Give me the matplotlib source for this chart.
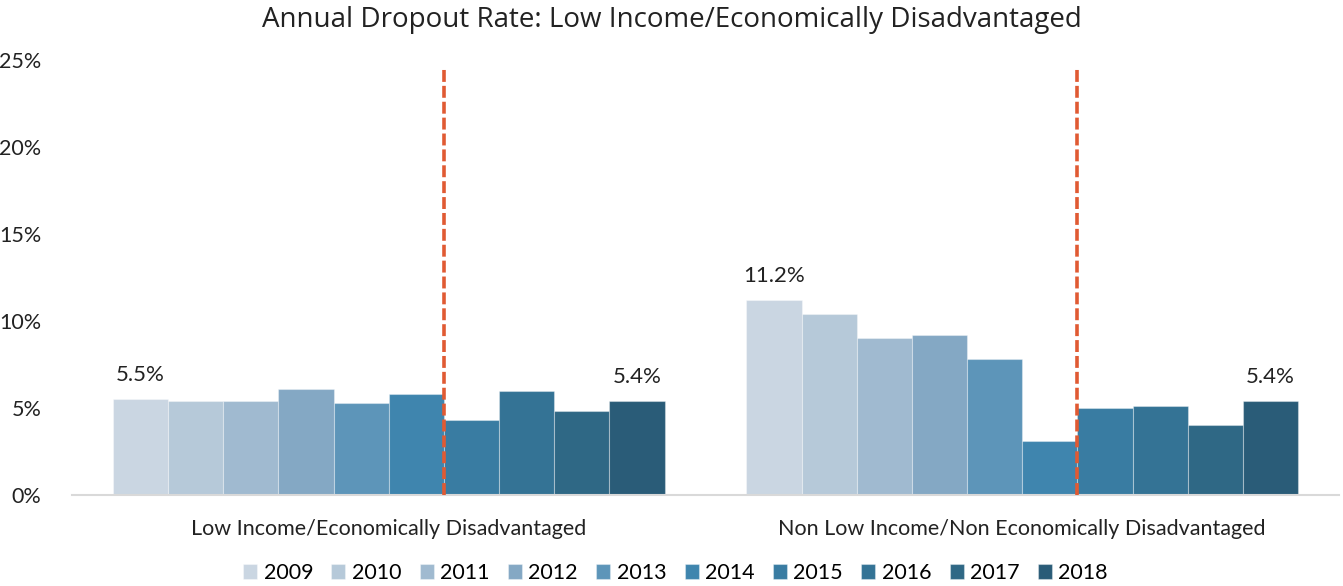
import numpy as np
import matplotlib.pyplot as plt
from matplotlib.ticker import PercentFormatter

# data
categories = ["Low Income/Economically Disadvantaged",
              "Non Low Income/Non Economically Disadvantaged"]
years = ["2009", "2010", "2011", "2012", "2013", "2014", "2015", "2016", "2017", "2018"]
low_income = [5.5, 5.4, 5.4, 6.1, 5.3, 5.8, 4.3, 6.0, 4.8, 5.4]
non_low_income = [11.2, 10.4, 9.0, 9.2, 7.8, 3.1, 5.0, 5.1, 4.0, 5.4]
colors = ["#CAD6E2", "#B6C9D9", "#A0BAD0", "#84A8C4", "#5D95B9",
          "#3F85AE", "#397CA2", "#347395", "#2F6885", "#2A5C78"]
marker_top = 24.5   # height of the dashed marker lines
marker_after = 5    # dashed line sits after the 6th year (2014)

plt.rcParams['font.family'] = ['Lato', 'DejaVu Sans']

fig = plt.figure(figsize=(13.43, 5.86), dpi=100)
ax = fig.add_axes([0.0536, 0.1553, 0.9434, 0.7423])

values = np.array([low_income, non_low_income])   # shape (2, 10)
n = len(years)
group_w = 0.871
bw = group_w / n
x = np.arange(len(categories))

for i, yr in enumerate(years):
    xs = x - group_w / 2 + bw * (i + 0.5)
    ax.bar(xs, values[:, i], width=bw, color=colors[i], label=yr,
           edgecolor=(1, 1, 1, 0.35), linewidth=0.8)
    # labels only on first and last year
    if i in (0, n - 1):
        for xx, v in zip(xs, values[:, i]):
            ax.text(xx, v + 0.8, f"{v:.1f}%", ha="center", va="bottom",
                    fontsize=16, color="#222222")

# dashed separator lines
for xc in x:
    xl = xc - group_w / 2 + bw * (marker_after + 1)
    ax.plot([xl, xl], [0, marker_top], ls=(0, (3.3, 1.1)), color="#E05A33",
            lw=2.6, zorder=3)

ax.set_xlim(-0.5, 1.5)
ax.set_ylim(0, 25)
ax.set_yticks([0, 5, 10, 15, 20, 25])
ax.yaxis.set_major_formatter(PercentFormatter(decimals=0))
ax.set_xticks(x)
ax.set_xticklabels(categories)
ax.tick_params(axis="y", length=0, labelsize=15.5, pad=22, colors="#222222")
ax.tick_params(axis="x", length=0, labelsize=15.5, pad=17, colors="#222222")
for s in ["top", "right", "left"]:
    ax.spines[s].set_visible(False)
ax.spines["bottom"].set_color("#D9D9D9")
ax.spines["bottom"].set_linewidth(1.5)

fig.suptitle("Annual Dropout Rate: Low Income/Economically Disadvantaged",
             x=0.5, y=0.99, fontsize=20, family=["Open Sans", "DejaVu Sans"],
             color="#222222")

fig.legend(*ax.get_legend_handles_labels(), loc="center",
           bbox_to_anchor=(0.503, 0.022), ncol=n, frameon=False,
           fontsize=15.5, handlelength=0.65, handleheight=0.65, handletextpad=0.3,
           columnspacing=0.85, borderaxespad=0)

fig.savefig("out.png", dpi=100)
